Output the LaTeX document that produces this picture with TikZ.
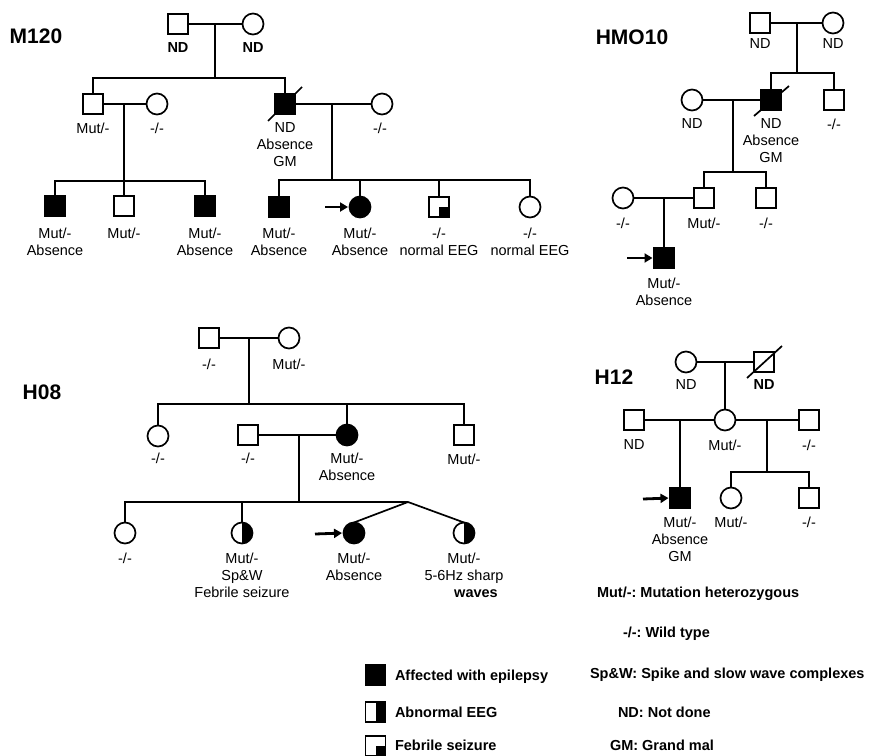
\documentclass[tikz,border=0pt]{standalone}
\usepackage{fontspec}
\setmainfont{Liberation Sans}
\usetikzlibrary{arrows.meta,calc}
\frenchspacing
\begin{document}
\begin{tikzpicture}[x=1pt,y=-1pt,
  every node/.style={inner sep=0pt,outer sep=0pt},
  sq/.style={draw,rectangle,minimum size=20pt,line width=1.7pt,fill=white},
  ci/.style={draw,circle,minimum size=21pt,line width=1.7pt,fill=white},
  aff/.style={fill=black},
  halfci/.style={ci,path picture={\fill[black] (path picture bounding box.north) rectangle (path picture bounding box.south east);}},
  halfsq/.style={sq,path picture={\fill[black] (path picture bounding box.north) rectangle (path picture bounding box.south east);}},
  febsq/.style={sq,path picture={\fill[black] (path picture bounding box.center) rectangle (path picture bounding box.south east);}},
  ln/.style={line width=1.7pt},
  prob/.style={-{Triangle[length=8pt,width=9pt]},line width=2.8pt,shorten >=1.5pt},
  lab/.style={anchor=north,align=center,font=\fontsize{14.5}{17}\selectfont},
  blab/.style={anchor=north,align=center,font=\fontsize{14.5}{17}\selectfont\bfseries},
  ttl/.style={anchor=base,font=\fontsize{21}{25}\selectfont\bfseries},
  leg/.style={anchor=base west,font=\fontsize{14.5}{17}\selectfont\bfseries}
]
\useasboundingbox (0,0) rectangle (870,755);

% ================= M120 =================
\node[ttl] (t1) at (36,43.5) {M120};
\node[sq] (m1) at (178,24) {};
\node[ci] (m2) at (253,24) {};
\node[sq] (m3) at (93,104) {};
\node[ci] (m4) at (157,104) {};
\node[sq,aff] (m5) at (285,104) {};
\node[ci] (m6) at (382,104) {};
\node[sq,aff] (m7) at (55,206) {};
\node[sq] (m8) at (124,206) {};
\node[sq,aff] (m9) at (205,206) {};
\node[sq,aff] (m10) at (279,207) {};
\node[ci,aff] (m11) at (360,207) {};
\node[febsq] (m12) at (439,207) {};
\node[ci] (m13) at (530,207) {};

\coordinate (m12c) at (215,24);
\coordinate (ms0) at (215,78);
\coordinate (m34) at (124,104);
\coordinate (m56) at (332,104);
\coordinate (ms2) at (332,180);
\coordinate (ma) at (325,207);
\coordinate (ms1) at (124,181);

\draw[ln] (m1) -- (m2);
\draw[ln] (m12c) -- (ms0);
\draw[ln] (m3.north) |- (ms0) -| (m5.north);
\draw[ln] (m3) -- (m4);
\draw[ln] (m5) -- (m6);
\draw[ln] ($(m5)+(-17,17)$) -- ($(m5)+(17,-17)$);
\draw[ln] (m34) -- (m8);
\draw[ln] (m7.north) |- (ms1) -| (m9.north);
\draw[ln] (m56) -- (ms2);
\draw[ln] (m10.north) |- (ms2) -| (m13.north);
\draw[ln] (m11.north) -- (m11.north |- ms2);
\draw[ln] (m12.north) -- (m12.north |- ms2);
\draw[prob] (ma) -- (m11.west);

\node[blab] (m1l) at (178,42.8) {ND};
\node[blab] (m2l) at (253,42.8) {ND};
\node[lab] (m3l) at (93,122.8) {Mut/-};
\node[lab] (m4l) at (157,122.8) {-/-};
\node[lab] (m5l) at (285,122.8) {ND\\Absence\\GM};
\node[lab] (m6l) at (380,122.8) {-/-};
\node[lab] (m7l) at (55,227.8) {Mut/-\\Absence};
\node[lab] (m8l) at (124,227.8) {Mut/-};
\node[lab] (m9l) at (205,227.8) {Mut/-\\Absence};
\node[lab] (m10l) at (279,227.8) {Mut/-\\Absence};
\node[lab] (m11l) at (360,227.8) {Mut/-\\Absence};
\node[lab] (m12l) at (439,227.8) {-/-\\normal EEG};
\node[lab] (m13l) at (530,227.8) {-/-\\normal EEG};

% ================= HMO10 =================
\node[ttl] (t2) at (632,44.5) {HMO10};
\node[sq] (h1) at (760,23) {};
\node[ci] (h2) at (833,23) {};
\node[sq,aff] (h3) at (771,100) {};
\node[sq] (h4) at (834,100) {};
\node[ci] (h5) at (692,100) {};
\node[sq] (h6) at (704,198) {};
\node[sq] (h7) at (766,198) {};
\node[ci] (h8) at (623,198) {};
\node[sq,aff] (h9) at (664,258) {};

\coordinate (h12) at (797,23);
\coordinate (hs0) at (797,73);
\coordinate (h53) at (733,100);
\coordinate (hs1) at (733,172);
\coordinate (h86) at (664,198);
\coordinate (ha) at (627,258);

\draw[ln] (h1) -- (h2);
\draw[ln] (h12) -- (hs0);
\draw[ln] (h3.north) |- (hs0) -| (h4.north);
\draw[ln] (h5) -- (h3);
\draw[ln] ($(h3)+(-17,16)$) -- ($(h3)+(18,-14)$);
\draw[ln] (h53) -- (hs1);
\draw[ln] (h6.north) |- (hs1) -| (h7.north);
\draw[ln] (h8) -- (h6);
\draw[ln] (h86) -- (h9);
\draw[prob] (ha) -- (h9.west);

\node[lab] (h1l) at (760,38.8) {ND};
\node[lab] (h2l) at (833,38.8) {ND};
\node[lab] (h5l) at (692,118.8) {ND};
\node[lab] (h3l) at (771,118.8) {ND\\Absence\\GM};
\node[lab] (h4l) at (834,118.8) {-/-};
\node[lab] (h8l) at (623,217.8) {-/-};
\node[lab] (h6l) at (704,217.8) {Mut/-};
\node[lab] (h7l) at (766,217.8) {-/-};
\node[lab] (h9l) at (664,277.8) {Mut/-\\Absence};

% ================= H08 =================
\node[ttl] (t3) at (42,399.5) {H08};
\node[sq] (g1) at (209,338) {};
\node[ci] (g2) at (289,338) {};
\node[ci] (g3) at (158,436) {};
\node[sq] (g4) at (248,435) {};
\node[ci,aff] (g5) at (347,435) {};
\node[sq] (g6) at (464,435) {};
\node[ci] (g7) at (125,533) {};
\node[halfci] (g8) at (242,533) {};
\node[ci,aff] (g9) at (354,533) {};
\node[halfci] (g10) at (464,533) {};

\coordinate (g12) at (249,338);
\coordinate (gs0) at (249,404);
\coordinate (g45) at (299,435);
\coordinate (gs1) at (299,502);
\coordinate (tw) at (408,502);
\coordinate (ga) at (315,534);

\draw[ln] (g1) -- (g2);
\draw[ln] (g12) -- (gs0);
\draw[ln] (g3.north) |- (gs0) -| (g6.north);
\draw[ln] (g5.north) -- (g5.north |- gs0);
\draw[ln] (g4) -- (g5);
\draw[ln] (g45) -- (gs1);
\draw[ln] (g7.north) |- (tw);
\draw[ln] (g8.north) -- (g8.north |- gs1);
\draw[ln] (g9.north) -- (tw) -- (g10.north);
\draw[prob] (ga) -- (g9.west);

\node[lab] (g1l) at (209,358.8) {-/-};
\node[lab] (g2l) at (289,358.8) {Mut/-};
\node[lab] (g3l) at (158,452.8) {-/-};
\node[lab] (g4l) at (248,452.8) {-/-};
\node[lab] (g5l) at (347,452.8) {Mut/-\\Absence};
\node[lab] (g6l) at (464,453.8) {Mut/-};
\node[lab] (g7l) at (125,552.8) {-/-};
\node[lab] (g8l) at (242,552.8) {Mut/-\\Sp\&W\\Febrile seizure};
\node[lab] (g9l) at (354,552.8) {Mut/-\\Absence};
\node[lab] (g10l) at (464,552.8) {Mut/-\\5-6Hz sharp\\\hspace*{24pt}\textbf{waves}};

% ================= H12 =================
\node[ttl] (t4) at (614,384.5) {H12};
\node[ci] (k1) at (686,362) {};
\node[sq] (k2) at (764,362) {};
\node[sq] (k3) at (634,420) {};
\node[ci] (k4) at (725,420) {};
\node[sq] (k5) at (809,420) {};
\node[sq,aff] (k6) at (680,498) {};
\node[ci] (k7) at (731,498) {};
\node[sq] (k8) at (809,498) {};

\coordinate (k12) at (725,362);
\coordinate (k34) at (680,420);
\coordinate (k45) at (767,420);
\coordinate (ks) at (767,472);
\coordinate (ka) at (643,499);

\draw[ln] (k1) -- (k2);
\draw[ln] ($(k2)+(-17,16)$) -- ($(k2)+(18,-16)$);
\draw[ln] (k12) -- (k4);
\draw[ln] (k3) -- (k4);
\draw[ln] (k4) -- (k5);
\draw[ln] (k34) -- (k6);
\draw[ln] (k45) -- (ks);
\draw[ln] (k7.north) |- (ks) -| (k8.north);
\draw[prob] (ka) -- (k6.west);

\node[lab] (k1l) at (686,379.8) {ND};
\node[blab] (k2l) at (764,379.8) {ND};
\node[lab] (k3l) at (634,439.8) {ND};
\node[lab] (k4l) at (725,439.8) {Mut/-};
\node[lab] (k5l) at (809,439.8) {-/-};
\node[lab] (k6l) at (680,516.8) {Mut/-\\Absence\\GM};
\node[lab] (k7l) at (731,516.8) {Mut/-};
\node[lab] (k8l) at (809,516.8) {-/-};

% ================= Legend =================
\node[sq,aff] (l1) at (375.5,675) {};
\node[halfsq] (l2) at (375.5,712) {};
\node[febsq] (l3) at (375.5,746) {};
\node[leg] (l1t) at (395,680.2) {Affected with epilepsy};
\node[leg] (l2t) at (395,717.2) {Abnormal EEG};
\node[leg] (l3t) at (395,750.2) {Febrile seizure};

\node[leg] (r1) at (597,597.2) {Mut/-: Mutation heterozygous};
\node[leg] (r2) at (623,637.2) {-/-: Wild type};
\node[leg] (r3) at (590,678.2) {Sp\&W: Spike and slow wave complexes};
\node[leg] (r4) at (618,717.2) {ND: Not done};
\node[leg] (r5) at (610,750.2) {GM: Grand mal};
\end{tikzpicture}
\end{document}
